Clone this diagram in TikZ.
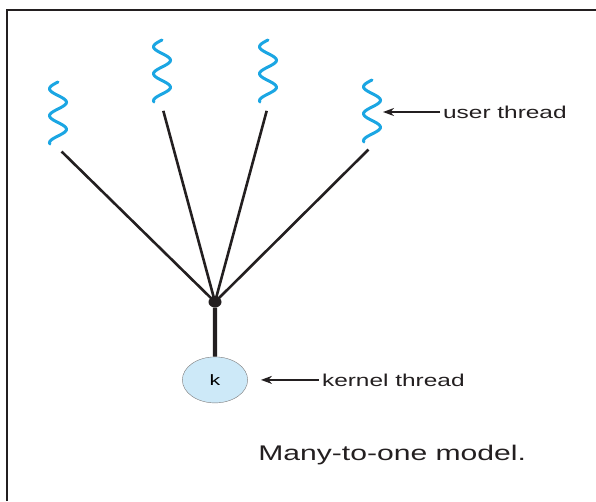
\documentclass[tikz,border=0pt]{standalone}
\usepackage{fontspec}
\setmainfont{Liberation Sans}
\usetikzlibrary{shapes,positioning,arrows.meta}
\definecolor{threadblue}{HTML}{1BA6E3}
\definecolor{kernelfill}{HTML}{CDE9F8}
\definecolor{ink}{HTML}{231F20}

\begin{document}
\begin{tikzpicture}[x=1pt,y=-1pt]

    \tikzstyle{wave}=[draw=threadblue, line width=3pt, line cap=round];
    \tikzstyle{fan}=[draw=ink, line width=2.6pt];
    \tikzstyle{lbl}=[text=ink, xscale=1.42, inner sep=2pt, font=\fontsize{17.2}{19}\selectfont];

    \useasboundingbox (0,0) rectangle (596,501);
    \draw[ink, line width=2.6pt] (7,501) -- (7,10) -- (596,10);

    \begin{scope}[>={Stealth[length=11pt,width=8pt]}]
      % user threads, with a coordinate just under each wave
      \foreach \ut/\cx/\ty in {t1/58/82, t2/162/40, t3/268/40, t4/372/80}{
        \draw[wave] plot[domain=0:62, samples=50, smooth] ({\cx-8.5*sin(13.333*\x)}, {\ty+\x});
        \coordinate (\ut) at (\cx,\ty+66);
      }

      \node (hub) at (215,302) [ellipse, fill=ink, minimum width=13pt, minimum height=11pt, inner sep=0pt]{};
      \node (k) [below=49pt of hub, circle, draw=ink!60, fill=kernelfill, minimum size=46pt, xscale=1.42]{\fontsize{15}{17}\selectfont k};

      \foreach \ut in {t1,t2,t3,t4}
        \draw[fan, shorten <=5pt] (\ut) -- (hub.center);
      \draw[ink, line width=4.2pt] (hub) -- (k);

      \coordinate (t4arrow) at (383,112);
      \node (userlbl) [right=57pt of t4arrow, lbl]{user thread};
      \draw[->, fan] (userlbl) -- (t4arrow);

      \node (kernellbl) [right=71pt of k, lbl]{kernel thread};
      \draw[->, fan, shorten >=13pt] (kernellbl) -- (k);

      \node (caption) at (258,455) [anchor=west, text=ink, xscale=1.42, inner sep=0pt, font=\fontsize{21.2}{24}\selectfont]{Many-to-one model.};
    \end{scope}
\end{tikzpicture}
\end{document}
